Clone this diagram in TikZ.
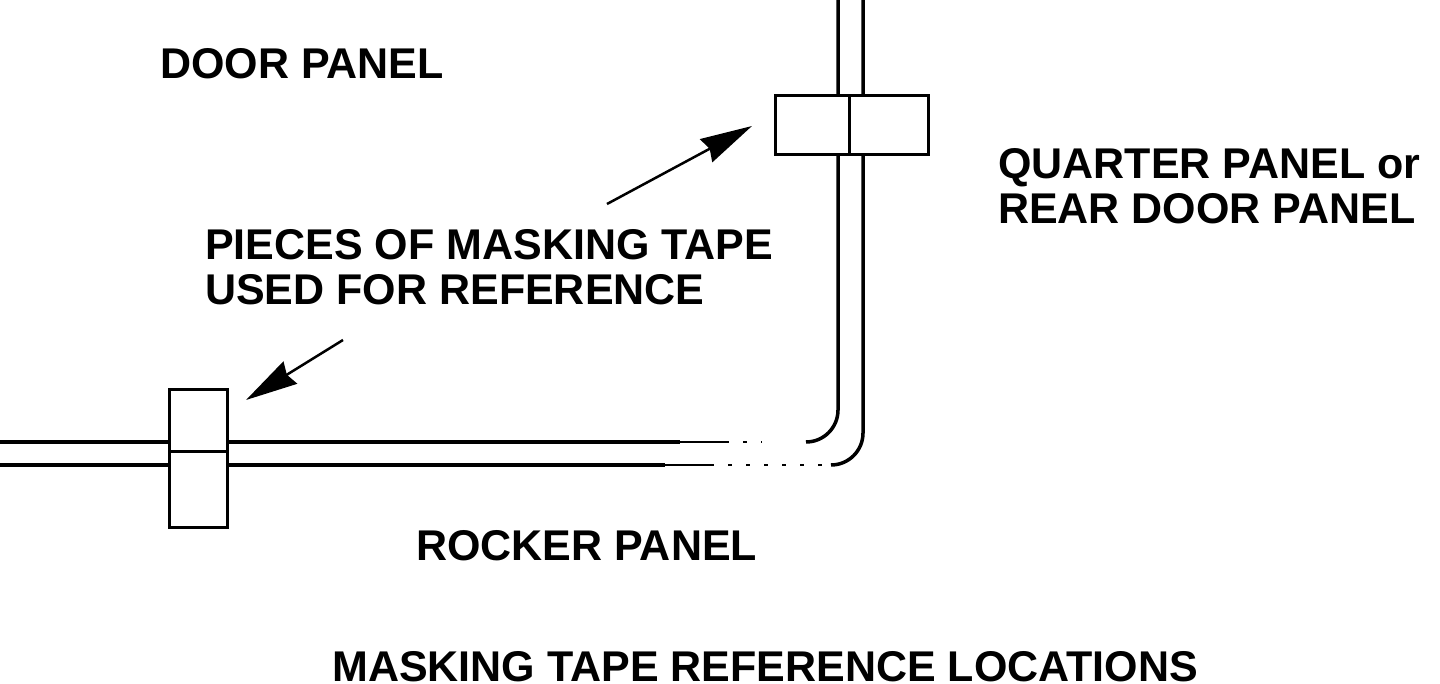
\documentclass[tikz,border=0pt]{standalone}
\usepackage{fontspec}
\setmainfont{Liberation Sans}
\usetikzlibrary{arrows.meta}
\begin{document}
\begin{tikzpicture}[x=1pt, y=-1pt, >={Stealth[length=52pt,width=26pt,inset=4pt]},
  lbl/.style={anchor=west, align=left, inner sep=0pt, font=\fontsize{43}{45}\selectfont\bfseries},
  tape/.style={draw, line width=3pt, fill=white, inner sep=0pt},
  trim/.style={line width=3.5pt},
  faded/.style={line width=1.2pt},
  specks/.style={line width=1.2pt, dash pattern=on 4pt off 14pt},
  ptr/.style={->, line width=2.5pt}]
\useasboundingbox (0,0) rectangle (1440,684);
% door edges
\coordinate (vla) at (838,0);
\coordinate (vlb) at (863,0);
\coordinate (hla) at (0,442);
\coordinate (hlb) at (0,465);
\draw[trim] (vla) -- (838,410) arc[start angle=0, end angle=-90, radius=32pt] coordinate (hra);
\draw[trim] (vlb) -- (863,433) arc[start angle=0, end angle=-90, radius=32pt] coordinate (hrb);
% horizontal edges die out towards the bend
\coordinate (hma) at (680,442);
\coordinate (hna) at (725,442);
\coordinate (hpa) at (762,442);
\coordinate (hmb) at (665,465);
\coordinate (hnb) at (710,465);
\coordinate (hpb) at (825,465);
\draw[trim] (hla) -- (hma);
\draw[faded] (hma) -- (hna);
\draw[specks] (hna) -- (hpa);
\draw[trim] (hlb) -- (hmb);
\draw[faded] (hmb) -- (hnb);
\draw[specks] (hnb) -- (hpb);
% tape pieces
\node[tape, minimum width=74pt, minimum height=59pt] (ta) at (812,125.5) {};
\node[tape, minimum width=79pt, minimum height=59pt] (tb) at (888.5,125.5) {};
\node[tape, minimum width=58pt, minimum height=62pt] (tc) at (198,420) {};
\node[tape, minimum width=58pt, minimum height=76pt] (td) at (198,489) {};
% labels
\node[lbl] (door) at (160,64) {DOOR PANEL};
\node[lbl] (quarter) at (998,186) {QUARTER PANEL or\\REAR DOOR PANEL};
\node[lbl] (pieces) at (205,267) {PIECES OF MASKING TAPE\\USED FOR REFERENCE};
\node[lbl] (rocker) at (416,546) {ROCKER PANEL};
\node[lbl] (title) at (332,667) {MASKING TAPE REFERENCE LOCATIONS};
% arrows
\coordinate (pa) at (607,204);
\coordinate (qa) at (752,126);
\coordinate (pb) at (343,340);
\coordinate (qb) at (246,400);
\draw[ptr] (pa) -- (qa);
\draw[ptr] (pb) -- (qb);
\end{tikzpicture}
\end{document}
